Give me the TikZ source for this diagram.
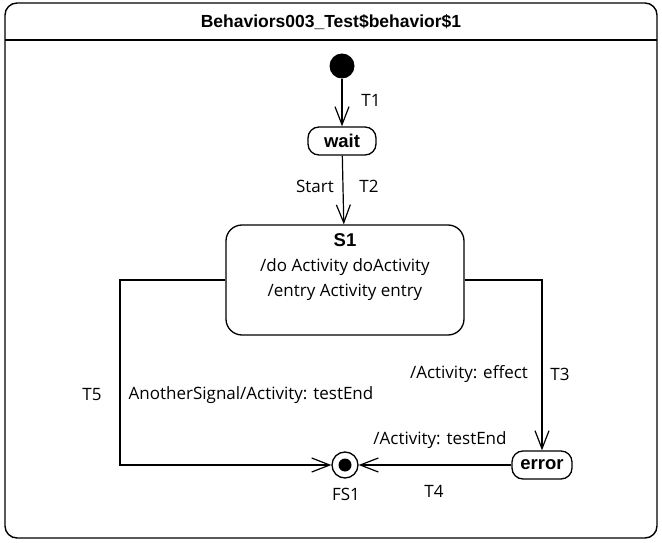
\documentclass[tikz,border=0pt]{standalone}
\usepackage{fontspec}
\setmainfont{Open Sans}
\newfontfamily\arialfont{Liberation Sans}
\usetikzlibrary{arrows.meta}

\begin{document}
\begin{tikzpicture}[x=1pt,y=-1pt,
    font=\fontsize{17}{20}\selectfont,
    state/.style={draw,line width=1.3pt,rounded corners=11pt,minimum height=28pt,
      inner xsep=6pt,font=\arialfont\bfseries\fontsize{18.5}{20}\selectfont},
    bigstate/.style={draw,line width=1.3pt,rounded corners=16pt,minimum width=238pt,minimum height=110pt},
    trans/.style={line width=1.2pt,-{Straight Barb[length=18pt,width=14pt,line width=1.2pt]}}]
    \useasboundingbox (0,0) rectangle (662,543);
    % frame and title
    \draw[line width=1.4pt,rounded corners=12pt] (5,3) rectangle (657,538);
    \draw[line width=1.2pt] (5,40) -- (657,40);
    \node (title) at (331,22) {\arialfont\bfseries\fontsize{17.5}{20}\selectfont Behaviors003\_Test\$behavior\$1};
    % states
    \node[circle,fill=black,minimum size=25pt,inner sep=0pt] (init) at (342,66) {};
    \node[state,minimum width=68pt] (wait) at (342,141) {wait};
    \node[bigstate] (S1) at (345,280) {};
    \node[align=center,font=\fontsize{17}{25}\selectfont] (S1txt) at (345,267)
      {{\arialfont\bfseries\fontsize{18.5}{25}\selectfont S1}\\/do Activity doActivity\\/entry Activity entry};
    \node[state,minimum width=60pt] (error) at (542,465) {error};
    \node[circle,draw,line width=1.3pt,minimum size=26pt,inner sep=0pt] (FS1) at (345,465) {};
    \node[circle,fill=black,minimum size=13pt,inner sep=0pt] (FS1dot) at (FS1) {};
    \coordinate (t5) at (120,280);
    % transitions
    \draw[trans] (init) -- (wait);
    \draw[trans] (wait) -- (S1);
    \draw[trans] (S1.west) -- (t5) |- (FS1);
    \draw[trans] (S1.east) -| (error);
    \draw[trans] (error) -- (FS1);
    % labels
    \node (T1) at (371,100) {T1};
    \node (start) at (315,186) {Start};
    \node (T2) at (369,186) {T2};
    \node (T5) at (92,395) {T5};
    \node (t5lbl) at (251,395) {AnotherSignal/Activity: testEnd};
    \node (t3lbl) at (469,374) {/Activity: effect};
    \node (T3) at (560,374) {T3};
    \node (t4lbl) at (440,440) {/Activity: testEnd};
    \node (T4) at (434,491) {T4};
    \node (fs1lbl) at (346,494) {FS1};
\end{tikzpicture}
\end{document}
